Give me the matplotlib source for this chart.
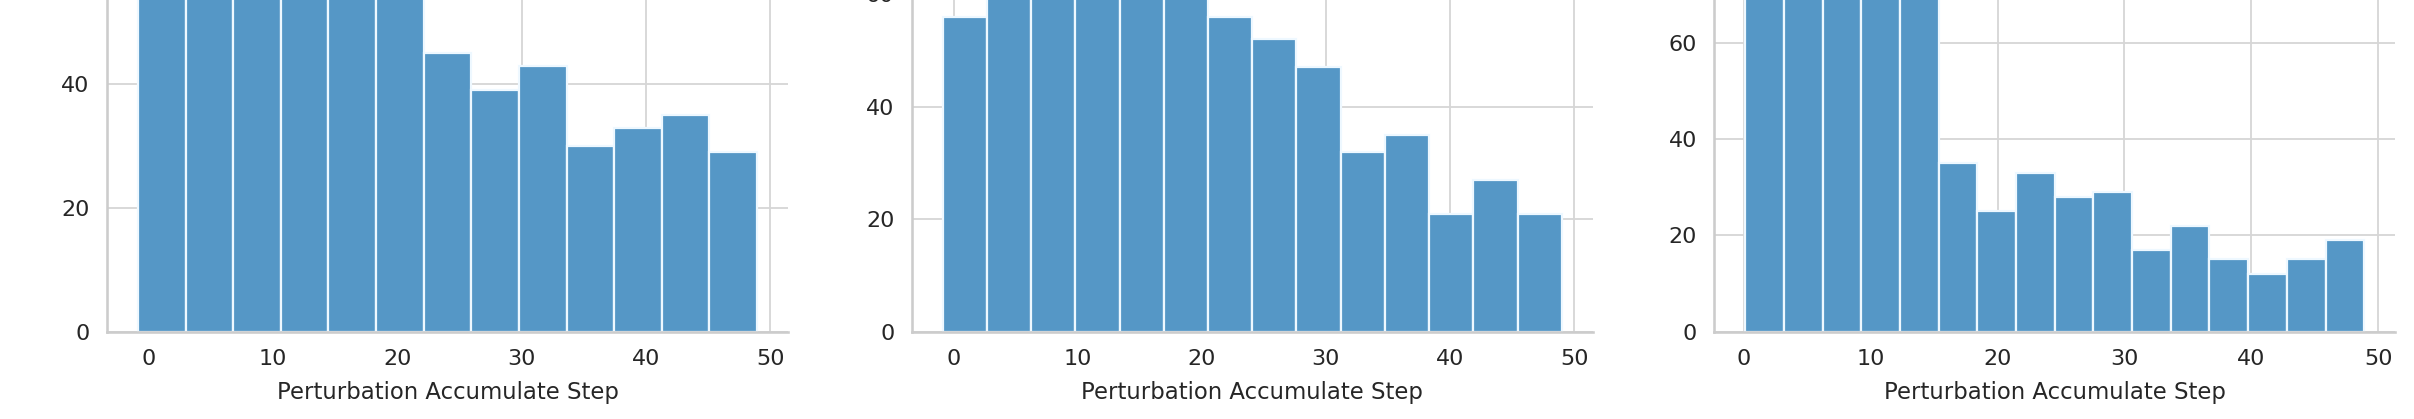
import numpy as np
import matplotlib
matplotlib.use("Agg")
import matplotlib.pyplot as plt
from matplotlib.ticker import MultipleLocator
import seaborn as sns

# ---- data (bin edges and counts) ----
edges_1 = np.linspace(-0.82, 48.92, 14)   # 13 bins
counts_1 = [62, 70, 66, 68, 64, 58, 45, 39, 43, 30, 33, 35, 29]

edges_2 = np.linspace(-0.88, 49.0, 15)    # 14 bins
counts_2 = [56, 68, 77, 72, 70, 65, 56, 52, 47, 32, 35, 21, 27, 21]

edges_3 = np.linspace(0.1, 48.9, 17)      # 16 bins
counts_3 = [90, 82, 78, 74, 71, 35, 25, 33, 28, 29, 17, 22, 15, 12, 15, 19]

x_label = "Perturbation Accumulate Step"

panels = [(edges_1, counts_1), (edges_2, counts_2), (edges_3, counts_3)]

sns.set_theme(style="whitegrid", context="talk")
plt.rcParams["font.family"] = ["DejaVu Sans"]

W, H = 2414, 419
fig = plt.figure(figsize=(W / 100, H / 100), dpi=100)

lefts = [107, 911.7, 1714.2]
ax_w = 681
ax_bottom = (H - 331.5) / H
ax_h = 454.2 / H

for left, (edges, counts) in zip(lefts, panels):
    ax = fig.add_axes([left / W, ax_bottom, ax_w / W, ax_h])
    widths = np.diff(edges)
    ax.bar(edges[:-1], counts, width=widths, align="edge",
           facecolor="#5597c6", edgecolor="#eef8ff", linewidth=1.6)
    ax.set_xlabel(x_label, fontsize=16.4, labelpad=9)
    ax.set_ylabel("")
    ax.xaxis.set_major_locator(MultipleLocator(10))
    ax.yaxis.set_major_locator(MultipleLocator(20))
    ax.tick_params(labelsize=16)
    ax.grid(color="#d6d6d6", linewidth=1.3)
    sns.despine(ax=ax)

fig.savefig("out.png", dpi=100)
